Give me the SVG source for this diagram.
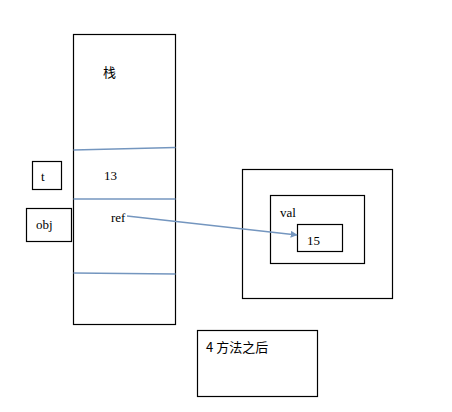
<svg xmlns="http://www.w3.org/2000/svg" width="452" height="412" viewBox="0 0 452 412">
<style>
.box{fill:none;stroke:#000;stroke-width:1.2}
.sep{stroke:#7496bf;stroke-width:1.6;fill:none}
.t{font-family:"Liberation Serif","Noto Sans CJK SC",serif;font-size:13px;fill:#000}
.c{font-family:"Noto Sans CJK SC",sans-serif;font-size:13px;fill:#000}
</style>
<defs>
<marker id="ah" viewBox="0 0 10 10" refX="9" refY="5" markerWidth="7" markerHeight="7" orient="auto" markerUnits="userSpaceOnUse">
<path d="M0,0 L10,5 L0,10 z" fill="#7496bf"/>
</marker>
</defs>
<rect width="452" height="412" fill="#fff"/>
<g id="stack">
<rect class="box" x="73.5" y="34.5" width="102" height="290"/>
<text class="c" x="103" y="77">栈</text>
<text class="t" x="104" y="180">13</text>
<text class="t" x="111" y="222">ref</text>
</g>
<g id="t">
<rect class="box" x="32.5" y="161.5" width="29" height="28"/>
<text class="t" x="41" y="181">t</text>
</g>
<g id="obj">
<rect class="box" x="26.5" y="208.5" width="45" height="33"/>
<text class="t" x="36" y="229">obj</text>
</g>
<g id="heap">
<rect class="box" x="242.5" y="169.5" width="150" height="129"/>
</g>
<g id="valbox">
<rect class="box" x="270.5" y="195.5" width="94" height="68"/>
<text class="t" x="280" y="217">val</text>
</g>
<g id="v15">
<rect class="box" x="297.5" y="224.5" width="45" height="27"/>
<text class="t" x="307" y="245">15</text>
</g>
<g id="note">
<rect class="box" x="197.5" y="330.5" width="120" height="66"/>
<text class="c" x="206" y="352">4 方法之后</text>
</g>
<g id="connectors">
<line class="sep" x1="73.5" y1="150" x2="175.5" y2="147.5"/>
<line class="sep" x1="73.5" y1="199" x2="175.5" y2="199"/>
<line class="sep" x1="73.5" y1="273" x2="175.5" y2="274"/>
<line class="sep" x1="127" y1="216" x2="297" y2="235" marker-end="url(#ah)"/>
</g>
</svg>
